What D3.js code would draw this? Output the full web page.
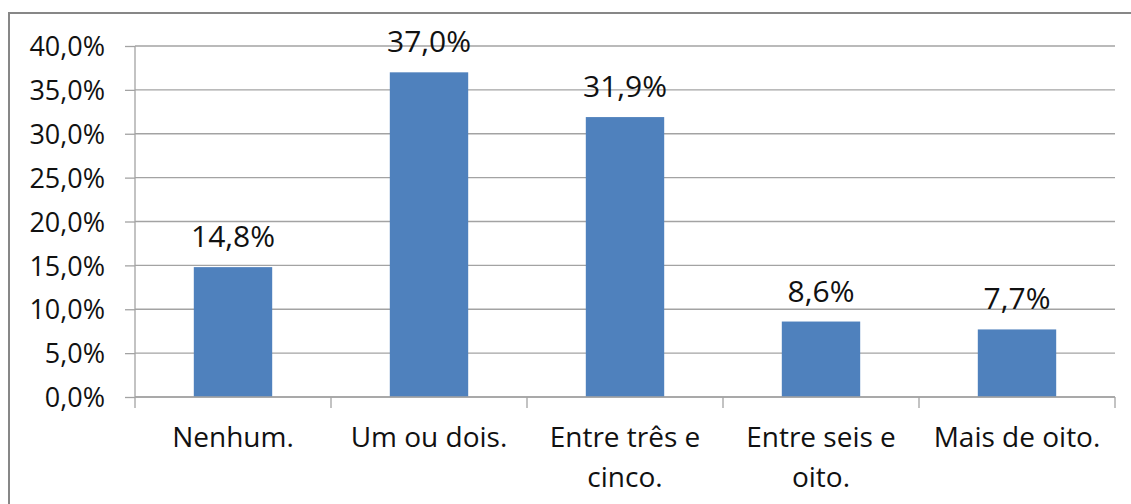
<!DOCTYPE html>
<html><head><meta charset="utf-8">
<script src="https://cdn.jsdelivr.net/npm/d3@7"></script>
<style>body{margin:0;background:#fff;} svg{display:block;}</style>
</head><body>
<svg id="c" width="1131" height="504"></svg>
<script>
const categories = [["Nenhum."], ["Um ou dois."], ["Entre três e", "cinco."], ["Entre seis e", "oito."], ["Mais de oito."]];
const values = [14.8, 37.0, 31.9, 8.6, 7.7];
const yTicks = [0, 5, 10, 15, 20, 25, 30, 35, 40];

const svg = d3.select("#c");
const font = "'Open Sans', sans-serif";
const fmt = v => d3.format(".1f")(v).replace(".", ",") + "%";

// chart border
svg.append("rect").attr("x", 9).attr("y", 13).attr("width", 1140).attr("height", 520)
  .attr("fill", "#fff").attr("stroke", "#878787").attr("stroke-width", 2);

const L = 135, R = 1115, T = 46, B = 397;
const x = d3.scaleBand().domain(d3.range(values.length)).range([L, R]).paddingInner(0.6).paddingOuter(0.3);
const y = d3.scaleLinear().domain([0, 40]).range([B, T]);

// gridlines
svg.append("g").selectAll("line").data(yTicks).join("line")
  .attr("x1", L).attr("x2", R).attr("y1", d => y(d)).attr("y2", d => y(d))
  .attr("stroke", "#a3a3a3").attr("stroke-width", 1.3);

// y axis
const yAxis = d3.axisLeft(y).tickValues(yTicks).tickSize(10).tickPadding(20).tickFormat(fmt);
const gy = svg.append("g").attr("transform", `translate(${L},0)`).call(yAxis);
gy.select(".domain").attr("stroke", "#a3a3a3").attr("stroke-width", 1.3).attr("d", `M0,${T}V${B}`);
gy.selectAll(".tick line").attr("stroke", "#a3a3a3").attr("stroke-width", 1.3);
gy.selectAll(".tick text").attr("font-family", font).attr("font-size", 27).attr("fill", "#111").attr("dy", "0.36em");

// bars
svg.append("g").selectAll("rect").data(values).join("rect")
  .attr("x", (d, i) => x(i)).attr("width", x.bandwidth())
  .attr("y", d => y(d)).attr("height", d => B - y(d))
  .attr("fill", "#4F81BD");

// x axis baseline + boundary ticks
const step = x.step();
const bounds = d3.range(values.length + 1).map(i => L + i * step);
svg.append("line").attr("x1", L).attr("x2", R).attr("y1", B).attr("y2", B)
  .attr("stroke", "#a3a3a3").attr("stroke-width", 1.3);
svg.append("g").selectAll("line").data(bounds).join("line")
  .attr("x1", d => d).attr("x2", d => d).attr("y1", B).attr("y2", B + 11)
  .attr("stroke", "#a3a3a3").attr("stroke-width", 1.3);

// data labels
svg.append("g").selectAll("text").data(values).join("text")
  .attr("x", (d, i) => x(i) + x.bandwidth() / 2).attr("y", d => y(d) - 20)
  .attr("text-anchor", "middle").attr("font-family", font).attr("font-size", 30).attr("fill", "#111")
  .text(fmt);

// category labels
const cl = svg.append("g").selectAll("text").data(categories).join("text")
  .attr("x", (d, i) => x(i) + x.bandwidth() / 2).attr("y", 447)
  .attr("text-anchor", "middle").attr("font-family", font).attr("font-size", 28).attr("fill", "#111");
cl.selectAll("tspan").data(d => d).join("tspan")
  .attr("x", function() { return this.parentNode.getAttribute("x"); })
  .attr("dy", (d, i) => i === 0 ? 0 : 40).text(d => d);
</script>
</body></html>
